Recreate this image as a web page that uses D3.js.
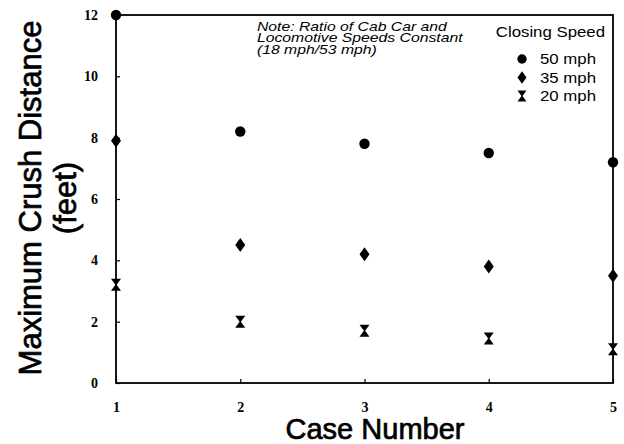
<!DOCTYPE html>
<html>
<head>
<meta charset="utf-8">
<script src="https://cdnjs.cloudflare.com/ajax/libs/d3/7.8.5/d3.min.js"></script>
<style>
  body { margin: 0; background: #fff; }
  svg { display: block; }
</style>
</head>
<body>
<div id="chart"></div>
<script>
// data
var cases = [1, 2, 3, 4, 5];
var speed50 = [12, 8.2, 7.8, 7.5, 7.2];
var speed35 = [7.9, 4.5, 4.2, 3.8, 3.5];
var speed20 = [3.2, 2.0, 1.7, 1.45, 1.1];
var seriesNames = ["50 mph", "35 mph", "20 mph"];
var yTicks = [0, 2, 4, 6, 8, 10, 12];
var noteLines = ["Note: Ratio of Cab Car and", "Locomotive Speeds Constant", "(18 mph/53 mph)"];

var width = 624, height = 444;
var plotLeft = 116, plotRight = 613, plotTop = 15, plotBottom = 383;

var svg = d3.select("#chart").append("svg")
    .attr("width", width)
    .attr("height", height);

var x = d3.scaleLinear().domain([1, 5]).range([plotLeft, plotRight]);
var y = d3.scaleLinear().domain([0, 12]).range([plotBottom, plotTop]);

// symbols
var circlePath = d3.symbol().type(d3.symbolCircle).size(85)();
var diamondPath = "M0,-7L5,0L0,7L-5,0Z";
var hourglassPath = "M-5,-6L5,-6L0.6,0L5,6L-5,6L-0.6,0Z";
var shapes = [circlePath, diamondPath, hourglassPath];

// axes
var yAxis = d3.axisLeft(y).tickValues(yTicks).tickSizeInner(-4).tickSizeOuter(0).tickPadding(18);
var xAxis = d3.axisBottom(x).tickValues(cases).tickFormat(d3.format("d")).tickSizeInner(-4).tickSizeOuter(0).tickPadding(19);

var gy = svg.append("g").attr("transform", "translate(" + plotLeft + ",0)").call(yAxis);
var gx = svg.append("g").attr("transform", "translate(0," + plotBottom + ")").call(xAxis);
[gy, gx].forEach(function(g){
  g.select(".domain").remove();
  g.selectAll("line").attr("stroke", "#000").attr("stroke-width", 1.2);
  g.selectAll("text")
    .style("font-family", "'Liberation Serif', 'DejaVu Serif', serif")
    .style("font-weight", "bold")
    .style("font-size", "14px")
    .attr("fill", "#000");
});

// frame
svg.append("rect")
  .attr("x", plotLeft).attr("y", plotTop)
  .attr("width", plotRight - plotLeft).attr("height", plotBottom - plotTop)
  .attr("fill", "none")
  .attr("stroke", "#000")
  .attr("stroke-width", 1.8);

// points
var series = [speed50, speed35, speed20];
series.forEach(function(vals, s){
  svg.selectAll(".pt" + s)
    .data(vals)
    .enter()
    .append("path")
    .attr("class", "pt" + s)
    .attr("d", shapes[s])
    .attr("transform", function(d, i){ return "translate(" + x(cases[i]) + "," + y(d) + ")"; })
    .attr("fill", "#000");
});

// axis titles
svg.append("text")
  .attr("x", 375).attr("y", 439)
  .attr("text-anchor", "middle")
  .style("font-family", "'Liberation Sans', Arial, sans-serif")
  .style("font-size", "29px")
  .attr("stroke", "#000").attr("stroke-width", 0.7)
  .text("Case Number");

var yTitle = svg.append("g").attr("transform", "translate(41,198) rotate(-90)");
yTitle.append("text")
  .attr("text-anchor", "middle")
  .style("font-family", "'Liberation Sans', Arial, sans-serif")
  .style("font-size", "31px")
  .attr("stroke", "#000").attr("stroke-width", 0.7)
  .text("Maximum Crush Distance");
yTitle.append("text")
  .attr("y", 35)
  .attr("text-anchor", "middle")
  .style("font-family", "'Liberation Sans', Arial, sans-serif")
  .style("font-size", "31px")
  .attr("stroke", "#000").attr("stroke-width", 0.7)
  .text("(feet)");

// note
var note = svg.append("g").attr("transform", "translate(257,31) scale(1.26,1)");
note.selectAll("text")
  .data(noteLines)
  .enter()
  .append("text")
  .attr("y", function(d, i){ return i * 11.5; })
  .style("font-family", "'Liberation Sans', Arial, sans-serif")
  .style("font-style", "italic")
  .style("font-size", "12.5px")
  .text(function(d){ return d; });

// legend
var legend = svg.append("g");
legend.append("text")
  .attr("transform", "translate(605,37) scale(1.2,1)")
  .attr("text-anchor", "end")
  .style("font-family", "'Liberation Sans', Arial, sans-serif")
  .style("font-size", "14px")
  .text("Closing Speed");
seriesNames.forEach(function(name, s){
  var cy = 59 + s * 18.5;
  legend.append("path")
    .attr("d", shapes[s])
    .attr("transform", "translate(522," + cy + ") scale(0.9)")
    .attr("fill", "#000");
  legend.append("text")
    .attr("transform", "translate(540," + (cy + 5) + ") scale(1.2,1)")
    .style("font-family", "'Liberation Sans', Arial, sans-serif")
    .style("font-size", "14px")
    .text(name);
});
</script>
</body>
</html>
